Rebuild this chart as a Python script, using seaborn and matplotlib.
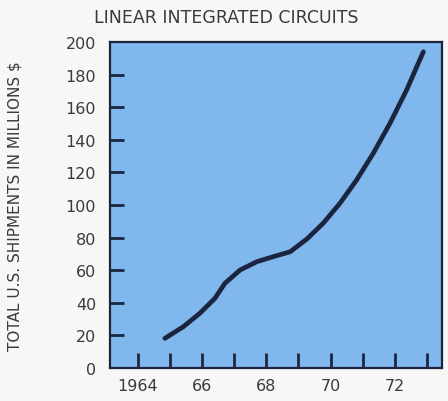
import numpy as np
import pandas as pd
import matplotlib
matplotlib.use('Agg')
import matplotlib.pyplot as plt
import seaborn as sns

# values
years = [1964.84, 1965.41, 1965.93, 1966.40, 1966.71, 1967.18, 1967.70, 1968.21,
         1968.74, 1969.26, 1969.77, 1970.29, 1970.81, 1971.33, 1971.85, 1972.37, 1972.89]
shipments = [18.2, 25.3, 33.6, 42.8, 52.0, 60.1, 65.2, 68.3,
             71.3, 79.1, 88.8, 101.0, 115.3, 131.7, 150.1, 170.6, 194.0]
year_ticks = [1964, 1966, 1968, 1970, 1972]
year_labels = ['1964', '66', '68', '70', '72']
minor_years = [1965, 1967, 1969, 1971, 1973]
y_ticks = [0, 20, 40, 60, 80, 100, 120, 140, 160, 180, 200]

df = pd.DataFrame({'year': years, 'shipments': shipments})

sns.set_style('white')
plt.rcParams['font.family'] = ['DejaVu Sans']

navy = '#1c2540'
text_col = '#3a3a3a'

fig = plt.figure(figsize=(4.48, 4.02), dpi=100)
fig.patch.set_facecolor('#f7f7f5')
ax = fig.add_axes([0.2455, 0.082, 0.741, 0.811])
ax.set_facecolor('#80b8ee')

sns.lineplot(data=df, x='year', y='shipments', ax=ax, color=navy, linewidth=3.4,
             solid_capstyle='round')

ax.set_xlim(1963.13, 1973.47)
ax.set_ylim(0, 200)

ax.set_xticks(year_ticks)
ax.set_xticklabels(year_labels)
ax.set_xticks(minor_years, minor=True)
ax.set_yticks(y_ticks)
ax.set_yticklabels([str(v) for v in y_ticks])

ax.tick_params(axis='x', which='both', bottom=True, direction='in', length=11, width=2,
               color=navy, pad=7, labelsize=11.5, labelcolor=text_col)
ax.tick_params(axis='y', left=True, direction='in', length=10, width=2,
               color=navy, pad=10, labelsize=11.5, labelcolor=text_col)
for t in ax.yaxis.get_major_ticks():
    if t.get_loc() in (0, 200):
        t.tick1line.set_visible(False)

for s in ax.spines.values():
    s.set_color(navy)
    s.set_linewidth(1.6)

ax.set_xlabel('')
ax.set_ylabel('TOTAL U.S. SHIPMENTS IN MILLIONS \\$', fontsize=11, color=text_col)
ax.yaxis.set_label_coords(-0.265, 0.5)
fig.text(0.505, 0.955, 'LINEAR INTEGRATED CIRCUITS', ha='center', va='center',
         fontsize=12.5, color=text_col)

fig.savefig('out.png', dpi=100, facecolor=fig.get_facecolor())
